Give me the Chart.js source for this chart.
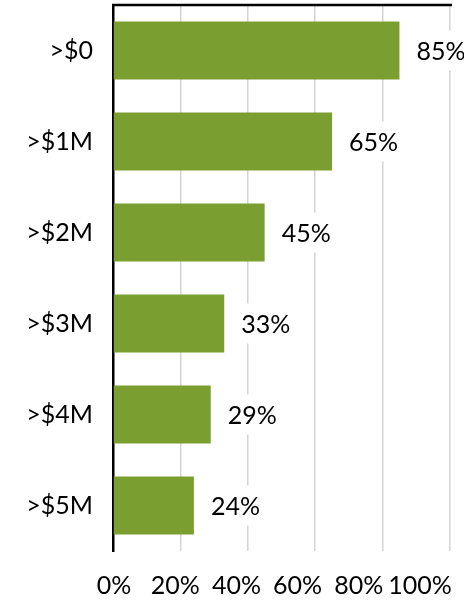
<!DOCTYPE html>
<html>
<head>
<meta charset="utf-8">
<script src="https://cdn.jsdelivr.net/npm/chart.js@4"></script>
<style>
  body { margin: 0; background: #fff; }
  canvas { display: block; }
</style>
</head>
<body>
<canvas id="grafico" width="464" height="600"></canvas>
<script>
let categorias = [">$0", ">$1M", ">$2M", ">$3M", ">$4M", ">$5M"];
let valores = [85, 65, 45, 33, 29, 24];
let ticksX = [0, 20, 40, 60, 80, 100];

let fuente = { family: "Lato", size: 25 };

// etiquetas de valor a la derecha de cada barra, con fondo blanco
const etiquetas = {
    id: "etiquetas",
    afterDatasetsDraw(chart) {
        const ctx = chart.ctx;
        const meta = chart.getDatasetMeta(0);
        ctx.save();
        ctx.font = "25px Lato";
        ctx.textBaseline = "middle";
        meta.data.forEach((barra, i) => {
            let texto = valores[i] + "%";
            let ancho = ctx.measureText(texto).width;
            let x = barra.x + 17;
            ctx.fillStyle = "#fff";
            ctx.fillRect(x - 4, barra.y - 20, ancho + 8, 40);
            ctx.fillStyle = "#000";
            ctx.fillText(texto, x, barra.y + 1);
        });
        // linea superior
        const area = chart.chartArea;
        ctx.strokeStyle = "#000";
        ctx.lineWidth = 2.5;
        ctx.beginPath();
        ctx.moveTo(area.left - 1, area.top);
        ctx.lineTo(area.right + 2, area.top);
        ctx.stroke();
        ctx.restore();
    }
};

new Chart(document.querySelector("#grafico"), {
    type: "bar",
    data: {
        labels: categorias,
        datasets: [{
            data: valores,
            backgroundColor: "#7a9f30",
            barPercentage: 0.64,
            categoryPercentage: 1
        }]
    },
    options: {
        indexAxis: "y",
        responsive: false,
        animation: false,
        devicePixelRatio: 1,
        layout: { padding: { top: 5, right: 14, left: 0, bottom: 0 } },
        plugins: {
            legend: { display: false },
            tooltip: { enabled: false }
        },
        scales: {
            x: {
                min: 0,
                max: 100,
                afterBuildTicks: s => { s.ticks = ticksX.map(v => ({ value: v })); },
                ticks: { display: false },
                grid: { color: "#d4d4d4", lineWidth: 1.5, drawTicks: false },
                border: { display: false },
                afterFit: s => { s.paddingLeft = 0; s.paddingRight = 0; s.height = 0; }
            },
            // eje solo para los textos, algo comprimido como en el original
            xTexto: {
                type: "linear",
                position: "bottom",
                min: -0.33,
                max: 109.8,
                afterBuildTicks: s => { s.ticks = ticksX.map(v => ({ value: v })); },
                ticks: {
                    callback: v => v + "%",
                    font: fuente,
                    color: "#000",
                    padding: 20,
                    maxRotation: 0,
                    autoSkip: false
                },
                grid: { display: false, drawTicks: false },
                border: { display: false },
                afterFit: s => { s.paddingLeft = 0; s.paddingRight = 0; s.height = 49; }
            },
            y: {
                ticks: { font: fuente, color: "#000", padding: 20 },
                grid: { display: false, drawTicks: false },
                border: { color: "#000", width: 2.5 },
                afterFit: s => { s.width = 113; s.paddingTop = 0; s.paddingBottom = 0; }
            }
        }
    },
    plugins: [etiquetas]
});
</script>
</body>
</html>
